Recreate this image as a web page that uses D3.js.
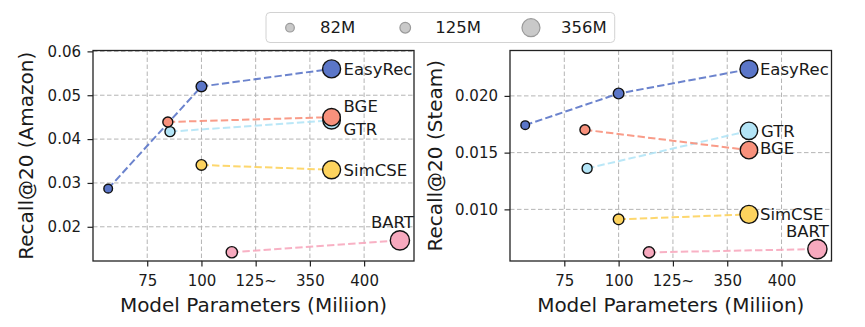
<!DOCTYPE html>
<html>
<head>
<meta charset="utf-8">
<script src="https://cdn.jsdelivr.net/npm/d3@7"></script>
<style>
  body { margin: 0; background: #fff; }
  text { font-family: "DejaVu Sans", sans-serif; fill: #1a1a1a; }
</style>
</head>
<body>
<svg id="fig" width="865" height="327"></svg>
<script>
// models, drawn back to front
const modelNames = ["EasyRec", "GTR", "BGE", "SimCSE", "BART"];
const modelColors = ["#5b76c8", "#b3e4f6", "#f8917c", "#fdd35e", "#f7a9be"];

// x position of each checkpoint (broken "Model Parameters" axis) and its size in M
const modelX      = [[57, 100, 370], [85.5, 370], [84.5, 370], [100, 370], [114, 433]];
const modelParams = [[82, 125, 356], [110, 335], [110, 335], [125, 355], [140, 406]];

const amazonRecall = [[0.0287, 0.0520, 0.0560], [0.0417, 0.0443], [0.0439, 0.0450], [0.0341, 0.0330], [0.0142, 0.0169]];
const steamRecall  = [[0.01742, 0.02021, 0.02235], [0.01361, 0.01692], [0.01701, 0.01522], [0.00912, 0.00956], [0.00621, 0.00650]];

const xBreaks = [50, 75, 100, 125, 350, 400, 450];
const xTicks = [75, 100, 125, 350, 400];
const xTickLabels = ["75", "100", "125~", "350", "400"];

const amazonTicks = [0.02, 0.03, 0.04, 0.05, 0.06];
const amazonLimits = [0.0122, 0.0602];
const steamTicks = [0.010, 0.015, 0.020];
const steamLimits = [0.00545, 0.0240];

const legendSizes = [82, 125, 356];

const svg = d3.select("#fig");
const radius = d3.scaleSqrt().domain([0, 356]).range([0, 9]);

// name label placement next to the largest checkpoint
const amazonLabels = {
  EasyRec: { dx: 12, dy: 6, anchor: "start" },
  BGE:     { dx: 12, dy: -5.6, anchor: "start" },
  GTR:     { dx: 12, dy: 14.5, anchor: "start" },
  SimCSE:  { dx: 12, dy: 6, anchor: "start" },
  BART:    { dx: 14, dy: -12.4, anchor: "end" }
};
const steamLabels = {
  EasyRec: { dx: 11, dy: 6, anchor: "start" },
  GTR:     { dx: 12, dy: 6, anchor: "start" },
  BGE:     { dx: 11, dy: 4, anchor: "start" },
  SimCSE:  { dx: 11, dy: 6, anchor: "start" },
  BART:    { dx: 11.5, dy: -12.3, anchor: "end" }
};

const panels = [
  { left: 93, top: 50.5, w: 321, h: 210.5, values: amazonRecall, ticks: amazonTicks, limits: amazonLimits,
    fmt: d3.format(".2f"), ylabel: "Recall@20 (Amazon)", ylabelX: 33, labels: amazonLabels },
  { left: 510, top: 50.5, w: 321.5, h: 210.5, values: steamRecall, ticks: steamTicks, limits: steamLimits,
    fmt: d3.format(".3f"), ylabel: "Recall@20 (Steam)", ylabelX: 441.5, labels: steamLabels }
];

panels.forEach(p => {
  const step = p.w / 5.92;
  const x = d3.scaleLinear().domain(xBreaks).range(xBreaks.map((d, i) => i * step));
  const y = d3.scaleLinear().domain(p.limits).range([p.h, 0]);

  const g = svg.append("g").attr("transform", `translate(${p.left},${p.top})`);

  // grid
  g.selectAll(".vgrid").data(xTicks).join("line")
    .attr("x1", d => x(d)).attr("x2", d => x(d)).attr("y1", 0).attr("y2", p.h)
    .attr("stroke", "#b4b4b4").attr("stroke-width", 1).attr("stroke-dasharray", "4.5,2.5");
  g.selectAll(".hgrid").data(p.ticks).join("line")
    .attr("x1", 0).attr("x2", p.w).attr("y1", d => y(d)).attr("y2", d => y(d))
    .attr("stroke", "#b4b4b4").attr("stroke-width", 1).attr("stroke-dasharray", "4.5,2.5");

  // axes
  const xAxis = g.append("g").attr("transform", `translate(0,${p.h})`)
    .call(d3.axisBottom(x).tickValues(xTicks).tickFormat((d, i) => xTickLabels[i]).tickSize(5.5).tickPadding(8.8));
  const yAxis = g.append("g")
    .call(d3.axisLeft(y).tickValues(p.ticks).tickFormat(p.fmt).tickSize(5.5).tickPadding(6.5));
  [xAxis, yAxis].forEach(a => {
    a.select(".domain").remove();
    a.selectAll("line").attr("stroke", "#222").attr("stroke-width", 1.2);
    a.selectAll("text").attr("font-size", 15).attr("fill", "#1a1a1a")
      .style("font-family", "'DejaVu Sans', sans-serif");
  });

  // dashed trend lines
  const line = d3.line().x(d => x(d[0])).y(d => y(d[1]));
  modelNames.forEach((m, i) => {
    const pts = modelX[i].map((v, j) => [v, p.values[i][j]]);
    g.append("path").datum(pts).attr("d", line)
      .attr("fill", "none").attr("stroke", modelColors[i]).attr("stroke-width", 2)
      .attr("stroke-dasharray", "7.4,3.2").attr("opacity", 0.9);
  });

  // markers sized by parameter count
  modelNames.forEach((m, i) => {
    const pts = modelX[i].map((v, j) => ({ x: v, y: p.values[i][j], s: modelParams[i][j] }));
    g.selectAll(null).data(pts).join("circle")
      .attr("cx", d => x(d.x)).attr("cy", d => y(d.y)).attr("r", d => radius(d.s))
      .attr("fill", modelColors[i]).attr("stroke", "#111").attr("stroke-width", 1.4);
  });

  // model names
  modelNames.forEach((m, i) => {
    const last = modelX[i].length - 1;
    const pos = p.labels[m];
    g.append("text")
      .attr("x", x(modelX[i][last]) + (pos.anchor === "end" ? pos.dx : pos.dx))
      .attr("y", y(p.values[i][last]) + pos.dy)
      .attr("text-anchor", pos.anchor)
      .attr("font-size", 16.5)
      .text(m);
  });

  // frame
  g.append("rect").attr("width", p.w).attr("height", p.h)
    .attr("fill", "none").attr("stroke", "#222").attr("stroke-width", 1.3);

  // axis titles
  g.append("text").attr("x", p.w / 2).attr("y", 261.2)
    .attr("text-anchor", "middle").attr("font-size", 20)
    .text("Model Parameters (Miliion)");
  svg.append("text")
    .attr("transform", `translate(${p.ylabelX},${p.top + p.h / 2}) rotate(-90)`)
    .attr("text-anchor", "middle").attr("font-size", 20)
    .text(p.ylabel);
});

// size legend
const legend = svg.append("g");
const box = legend.append("rect")
  .attr("x", 266).attr("y", 12.5).attr("height", 30).attr("rx", 4)
  .attr("fill", "#fff").attr("stroke", "#d2d2d2").attr("stroke-width", 1);
let cursor = 290;
legendSizes.forEach(s => {
  const r = radius(s);
  legend.append("circle").attr("cx", cursor).attr("cy", 27.7).attr("r", r)
    .attr("fill", "#c9c9c9").attr("stroke", "#9a9a9a").attr("stroke-width", 1.2);
  const t = legend.append("text").attr("x", cursor + 30).attr("y", 33.2)
    .attr("font-size", 16.5).text(s + "M");
  cursor += 30 + t.node().getComputedTextLength() + 50;
});
box.attr("width", cursor - 50 - 266 + 8);
</script>
</body>
</html>
